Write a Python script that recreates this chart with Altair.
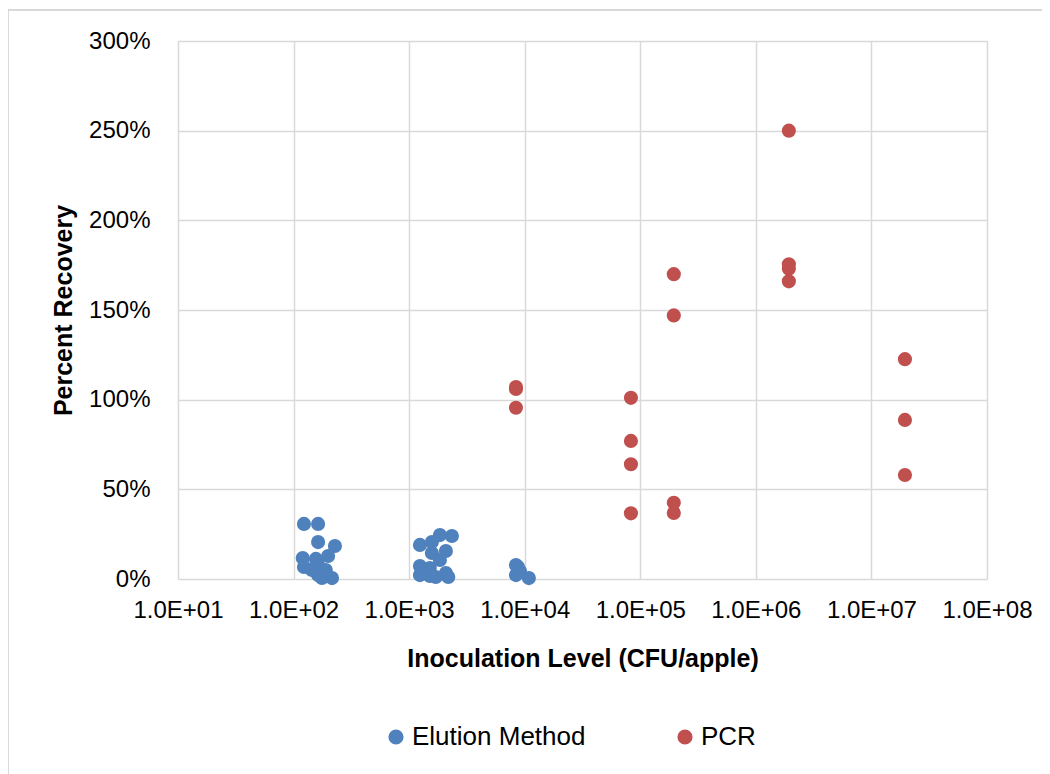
import altair as alt
import pandas as pd

# Elution Method points (inoculation level CFU/apple, recovery fraction)
elution_x = [123, 163, 163, 228, 120, 156, 199, 123, 163, 190, 163, 176, 215, 144,
             1240, 1573, 1846, 2344, 2080, 1573, 1846, 1240, 1510, 1240, 2080, 1700, 2180, 1510,
             8400, 8750, 8400, 9100, 10860]
elution_y = [0.307, 0.307, 0.206, 0.184, 0.117, 0.112, 0.128, 0.067, 0.078, 0.05, 0.022, 0.006, 0.005, 0.05,
             0.19, 0.206, 0.245, 0.24, 0.156, 0.145, 0.106, 0.072, 0.061, 0.022, 0.033, 0.011, 0.011, 0.017,
             0.078, 0.067, 0.022, 0.045, 0.005]

# PCR points
pcr_x = [8400, 8400, 8400,
         83000, 83000, 83000, 83000,
         195000, 195000, 195000, 195000,
         1930000, 1930000, 1930000, 1930000,
         19500000, 19500000, 19500000]
pcr_y = [1.07, 1.06, 0.955,
         1.01, 0.77, 0.64, 0.366,
         1.70, 1.47, 0.425, 0.368,
         2.50, 1.755, 1.73, 1.66,
         1.226, 0.887, 0.58]

series = ["Elution Method", "PCR"]
colors = ["#4F81BD", "#C0504D"]

df = pd.DataFrame({
    "x": elution_x + pcr_x,
    "y": elution_y + pcr_y,
    "series": [series[0]] * len(elution_x) + [series[1]] * len(pcr_x),
})

FONT = "Liberation Sans"
W, H = 809, 538

points = alt.Chart(df).mark_circle(size=200, opacity=1, clip=False).encode(
    x=alt.X("x:Q",
            scale=alt.Scale(type="log", domain=[10, 1e8], nice=False),
            axis=alt.Axis(title="Inoculation Level (CFU/apple)",
                          values=[1e1, 1e2, 1e3, 1e4, 1e5, 1e6, 1e7, 1e8],
                          labelExpr="'1.0E+0' + round(log(datum.value)/LN10)",
                          labelOverlap=False, labelBound=False, labelFlush=False,
                          labelPadding=19, titlePadding=24)),
    y=alt.Y("y:Q",
            scale=alt.Scale(domain=[0, 3], nice=False),
            axis=alt.Axis(title="Percent Recovery", values=[0, 0.5, 1, 1.5, 2, 2.5, 3],
                          format=".0%", labelOverlap=False, labelPadding=28, titlePadding=12)),
    color=alt.Color("series:N",
                    scale=alt.Scale(domain=series, range=colors),
                    legend=alt.Legend(title=None, orient="none", direction="horizontal",
                                      legendX=205, legendY=683, symbolType="circle",
                                      symbolSize=230, labelFontSize=26, labelFont=FONT,
                                      labelLimit=0, columnPadding=86, symbolStrokeWidth=0,
                                      labelOffset=3, labelColor="#000000")),
)

border = alt.Chart(df).mark_rect(filled=False, stroke="#D9D9D9", strokeWidth=1.5, clip=False).encode(
    x=alt.value(-170), x2=alt.value(W + 60),
    y=alt.value(-31), y2=alt.value(H + 200),
)

chart = alt.layer(border, points).properties(
    width=W, height=H,
    autosize=alt.AutoSizeParams(type="none"),
    padding={"left": 170, "top": 33, "right": 55, "bottom": 200},
).configure_view(stroke=None).configure_axis(
    grid=True, gridColor="#D9D9D9", gridWidth=1.5,
    domain=False, ticks=False,
    labelFont=FONT, labelFontSize=24, labelColor="#000000",
    titleFont=FONT, titleFontSize=25, titleFontWeight="bold", titleColor="#000000",
)

chart.save("out.html", embed_options={"renderer": "svg", "actions": False})
